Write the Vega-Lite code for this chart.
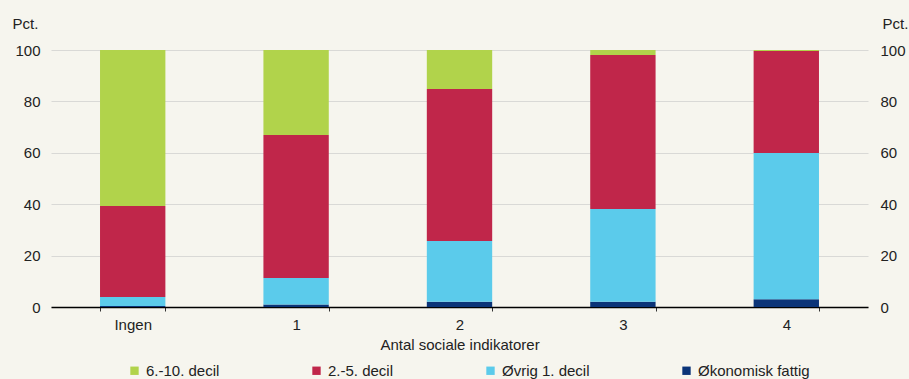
{
  "$schema": "https://vega.github.io/schema/vega-lite/v6.json",
  "width": 817,
  "height": 257,
  "autosize": {"type": "none"},
  "padding": {"left": 51, "top": 50, "right": 41, "bottom": 72},
  "background": "#F6F5EE",
  "config": {
    "view": {"stroke": null},
    "font": "Liberation Sans",
    "axis": {"labelFont": "Liberation Sans", "titleFont": "Liberation Sans", "labelColor": "#222222", "titleColor": "#222222", "labelFontSize": 15, "titleFontSize": 15, "titleFontWeight": "normal"},
    "legend": {"labelFont": "Liberation Sans", "labelFontSize": 15, "labelColor": "#222222"}
  },
  "data": {
    "values": [
      {"kategori": "Ingen", "gruppe": "Økonomisk fattig", "andel": 0.4, "rk": 1},
      {"kategori": "Ingen", "gruppe": "Øvrig 1. decil", "andel": 3.5, "rk": 2},
      {"kategori": "Ingen", "gruppe": "2.-5. decil", "andel": 35.4, "rk": 3},
      {"kategori": "Ingen", "gruppe": "6.-10. decil", "andel": 60.7, "rk": 4},
      {"kategori": "1", "gruppe": "Økonomisk fattig", "andel": 1.0, "rk": 1},
      {"kategori": "1", "gruppe": "Øvrig 1. decil", "andel": 10.3, "rk": 2},
      {"kategori": "1", "gruppe": "2.-5. decil", "andel": 55.6, "rk": 3},
      {"kategori": "1", "gruppe": "6.-10. decil", "andel": 33.1, "rk": 4},
      {"kategori": "2", "gruppe": "Økonomisk fattig", "andel": 2.0, "rk": 1},
      {"kategori": "2", "gruppe": "Øvrig 1. decil", "andel": 23.7, "rk": 2},
      {"kategori": "2", "gruppe": "2.-5. decil", "andel": 59.1, "rk": 3},
      {"kategori": "2", "gruppe": "6.-10. decil", "andel": 15.2, "rk": 4},
      {"kategori": "3", "gruppe": "Økonomisk fattig", "andel": 2.0, "rk": 1},
      {"kategori": "3", "gruppe": "Øvrig 1. decil", "andel": 36.1, "rk": 2},
      {"kategori": "3", "gruppe": "2.-5. decil", "andel": 60.0, "rk": 3},
      {"kategori": "3", "gruppe": "6.-10. decil", "andel": 1.9, "rk": 4},
      {"kategori": "4", "gruppe": "Økonomisk fattig", "andel": 3.0, "rk": 1},
      {"kategori": "4", "gruppe": "Øvrig 1. decil", "andel": 56.9, "rk": 2},
      {"kategori": "4", "gruppe": "2.-5. decil", "andel": 39.7, "rk": 3},
      {"kategori": "4", "gruppe": "6.-10. decil", "andel": 0.4, "rk": 4}
    ]
  },
  "encoding": {
    "x": {
      "field": "kategori", "type": "nominal", "sort": ["Ingen", "1", "2", "3", "4"],
      "scale": {"paddingInner": 0.6, "paddingOuter": 0.3},
      "axis": {"title": "Antal sociale indikatorer", "labelAngle": 0, "domainColor": "#000000", "domainWidth": 1.5, "tickColor": "#333333", "tickSize": 4, "tickBand": "extent", "labelPadding": 6, "titlePadding": 5}
    }
  },
  "layer": [
    {
      "mark": {"type": "bar"},
      "encoding": {
        "y": {
          "field": "andel", "type": "quantitative", "stack": "zero",
          "scale": {"domain": [0, 100], "nice": false},
          "axis": {"orient": "left", "values": [0, 20, 40, 60, 80, 100], "domain": false, "ticks": false, "grid": true, "gridColor": "#D9D9D6", "gridWidth": 1, "labelPadding": 11, "title": "Pct.", "titleAngle": 0, "titleAlign": "left", "titleBaseline": "alphabetic", "titleX": -39, "titleY": -22, "titleFontSize": 15}
        },
        "color": {
          "field": "gruppe", "type": "nominal",
          "scale": {"domain": ["6.-10. decil", "2.-5. decil", "Øvrig 1. decil", "Økonomisk fattig"], "range": ["#B1D34B", "#C0264A", "#5BCBEB", "#0B3478"]},
          "legend": {"title": null, "orient": "none", "direction": "horizontal", "legendX": 76, "legendY": 313, "symbolType": "square", "symbolSize": 70, "symbolStrokeWidth": 0, "labelOffset": 4, "columnPadding": 89}
        },
        "order": {"field": "rk", "type": "quantitative", "sort": "ascending"}
      }
    },
    {
      "mark": {"type": "bar", "opacity": 0},
      "encoding": {
        "y": {
          "field": "andel", "type": "quantitative", "stack": "zero",
          "scale": {"domain": [0, 100], "nice": false},
          "axis": {"orient": "right", "values": [0, 20, 40, 60, 80, 100], "domain": false, "ticks": false, "grid": false, "labelPadding": 12, "title": "Pct.", "titleAngle": 0, "titleAlign": "left", "titleBaseline": "alphabetic", "titleX": 14, "titleY": -22, "titleFontSize": 15}
        },
        "order": {"field": "rk", "type": "quantitative", "sort": "ascending"}
      }
    }
  ],
  "resolve": {"axis": {"y": "independent"}}
}
